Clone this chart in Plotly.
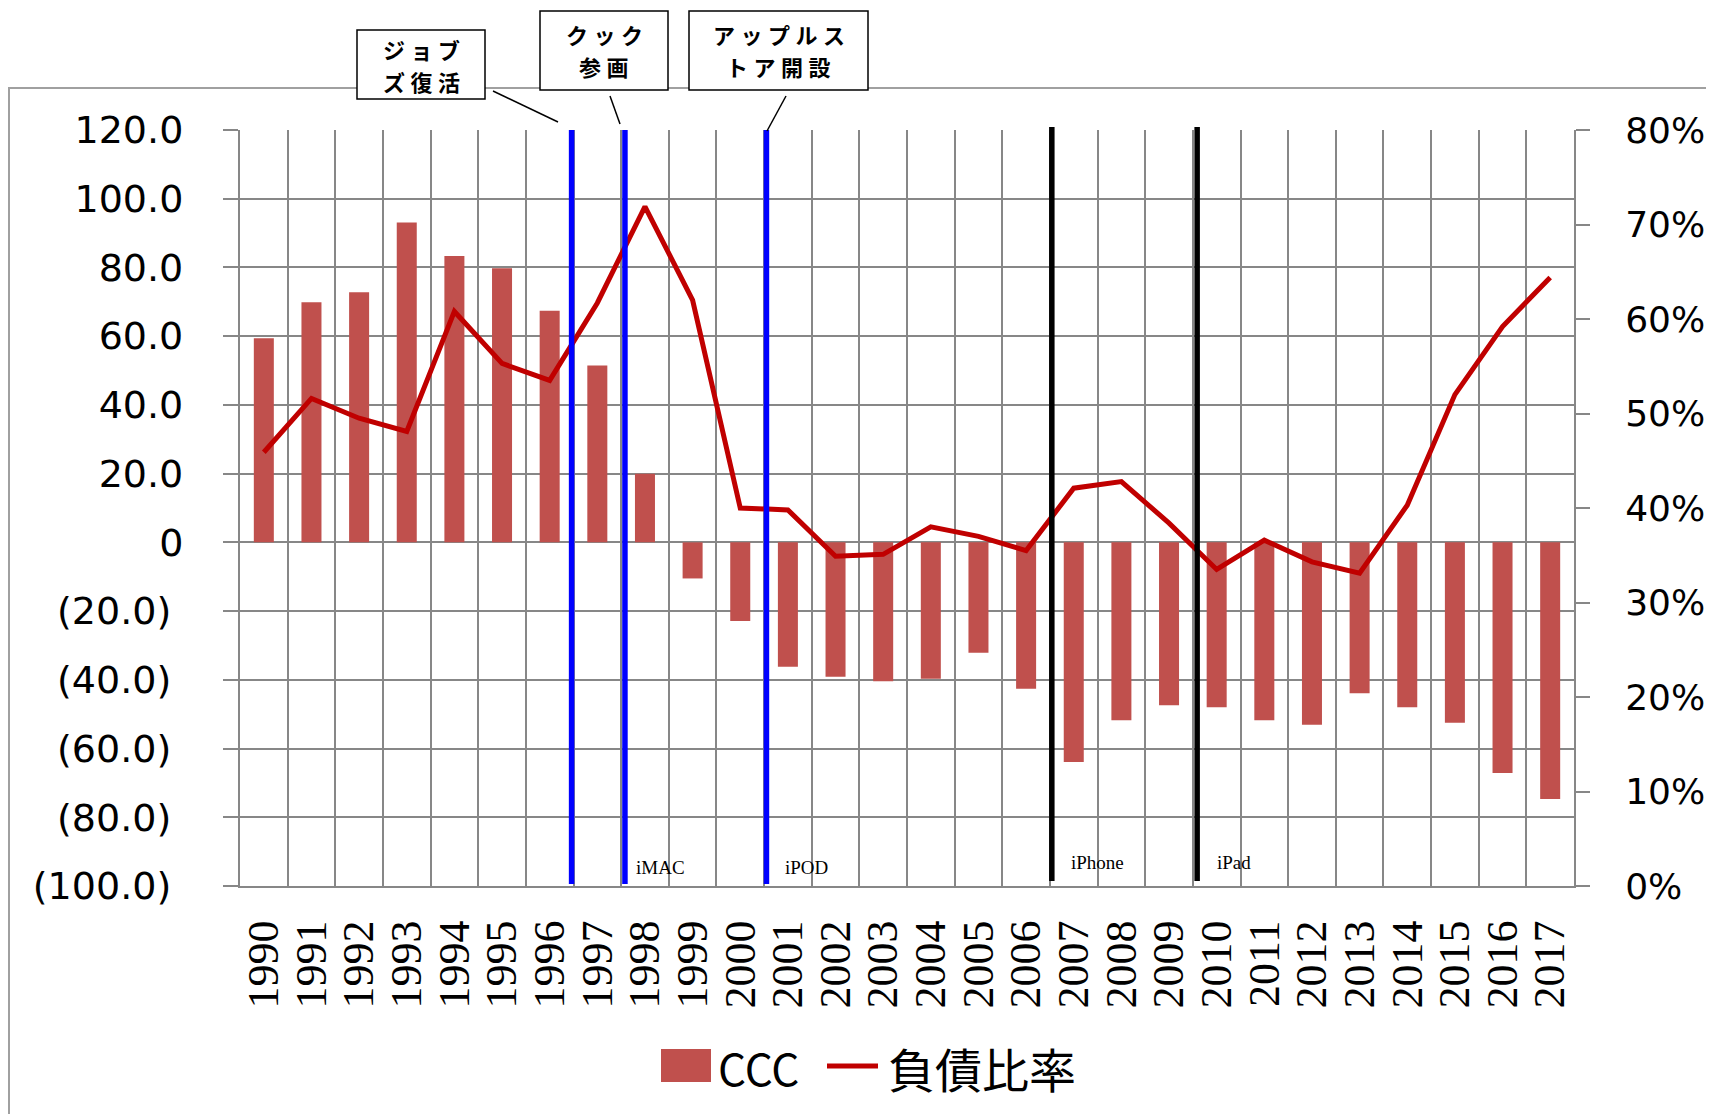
import plotly.graph_objects as go

# ---------------- data ----------------
years = ["1990", "1991", "1992", "1993", "1994", "1995", "1996", "1997", "1998", "1999",
         "2000", "2001", "2002", "2003", "2004", "2005", "2006", "2007", "2008", "2009",
         "2010", "2011", "2012", "2013", "2014", "2015", "2016", "2017"]

ccc = [59.4, 69.9, 72.8, 93.1, 83.3, 79.8, 67.4, 51.5, 20.0, -10.5,
       -22.9, -36.2, -39.1, -40.4, -39.7, -32.1, -42.6, -63.9, -51.8, -47.4,
       -48.0, -51.8, -53.1, -43.9, -48.0, -52.5, -67.1, -74.7]

debt_ratio = [0.459, 0.516, 0.495, 0.481, 0.608, 0.553, 0.535, 0.617, 0.719, 0.620,
              0.400, 0.398, 0.349, 0.351, 0.380, 0.370, 0.355, 0.421, 0.428, 0.384,
              0.335, 0.366, 0.343, 0.331, 0.403, 0.520, 0.592, 0.644]

left_tickvals = [-100, -80, -60, -40, -20, 0, 20, 40, 60, 80, 100, 120]
left_ticklabels = ["(100.0)", "(80.0)", "(60.0)", "(40.0)", "(20.0)", "0",
                   "20.0", "40.0", "60.0", "80.0", "100.0", "120.0"]

series_names = ["CCC", "負債比率"]

# event markers (between categories)
event_after_year = ["1996", "1997", "2000", "2006", "2009"]
event_colors = ["#0000FF", "#0000FF", "#0000FF", "#000000", "#000000"]
product_labels = ["", "iMAC", "iPOD", "iPhone", "iPad"]
callout_lines = [["ジョブ", "ズ復活"], ["クック", "参画"], ["アップルス", "トア開設"]]

# ---------------- layout geometry ----------------
# page body has an 8px margin, so the figure is drawn 8px right/down of the window
W_FIG, H_FIG = 1714, 1114
BODY = 8
L, R, T, B = 240, 1574, 130, 886          # plot area in window pixels
PW, PH = R - L, B - T


def px(x):
    return (x - L) / PW


def py(y):
    return (B - y) / PH


GRID = "#878787"
BAR_COLOR = "#C0504D"
LINE_COLOR = "#C00000"
SERIF = "Liberation Serif, Times New Roman, serif"
SANS = "DejaVu Sans"
CJK = "Noto Sans CJK JP"
NBSP = "\u00a0"

# accounting-style tick text: negatives carry a wider trailing pad than positives
left_ticktext = [t + NBSP * 2 if t.startswith("(") else t + NBSP for t in left_ticklabels]

fig = go.Figure()
fig.add_trace(go.Bar(x=years, y=ccc, name=series_names[0], marker_color=BAR_COLOR,
                     marker_line_width=0, yaxis="y", showlegend=False))
fig.add_trace(go.Scatter(x=years, y=debt_ratio, name=series_names[1], mode="lines",
                         line=dict(color=LINE_COLOR, width=5), yaxis="y2", showlegend=False))

shapes = []
annotations = []

# outer chart frame
shapes.append(dict(type="rect", xref="paper", yref="paper",
                   x0=px(9), x1=px(1760), y0=py(88), y1=py(1160),
                   line=dict(color="#A0A0A0", width=2), layer="below"))

# event lines
offsets = [-0.04, 0.08, 0.05, 0.04, 0.09]
label_offsets = [0.0, 0.19, 0.35, 0.37, 0.37]
ytops = [py(130), py(130), py(130), py(127), py(127)]
ybots = [py(884), py(884), py(884), py(881), py(881)]
for i, yr in enumerate(event_after_year):
    xc = years.index(yr) + 0.5 + offsets[i]
    shapes.append(dict(type="line", xref="x", yref="paper", x0=xc, x1=xc,
                       y0=ybots[i], y1=ytops[i],
                       line=dict(color=event_colors[i], width=5.5), layer="above"))
    if product_labels[i]:
        ylab = py(867) if i < 3 else py(862)
        annotations.append(dict(xref="x", yref="paper", x=xc + label_offsets[i], y=ylab,
                                text=product_labels[i], showarrow=False,
                                xanchor="left", yanchor="middle",
                                font=dict(family=SERIF, size=19, color="black")))

# callout boxes
boxes = [(357, 30, 485, 99), (540, 11, 668, 90), (689, 11, 868, 90)]
leaders = [((493, 91), (558, 122)), ((610, 96), (620, 124)), ((786, 96), (767, 131))]
for (x0, y0, x1, y1), lines, (p0, p1) in zip(boxes, callout_lines, leaders):
    shapes.append(dict(type="rect", xref="paper", yref="paper",
                       x0=px(x0), x1=px(x1), y0=py(y1), y1=py(y0),
                       fillcolor="white", line=dict(color="black", width=1.5), layer="above"))
    yc = (y0 + y1) / 2
    for k, ln in enumerate(lines):
        spaced = "\u2005".join(ln)
        annotations.append(dict(xref="paper", yref="paper", x=px((x0 + x1) / 2),
                                y=py(yc - 16 + 32 * k),
                                text="<b>" + spaced + "</b>", showarrow=False,
                                xanchor="center", yanchor="middle",
                                font=dict(family=CJK, size=22, color="black")))
    shapes.append(dict(type="line", xref="paper", yref="paper",
                       x0=px(p0[0]), y0=py(p0[1]), x1=px(p1[0]), y1=py(p1[1]),
                       line=dict(color="black", width=1.5), layer="above"))

# legend (drawn)
shapes.append(dict(type="rect", xref="paper", yref="paper",
                   x0=px(661), x1=px(711), y0=py(1082), y1=py(1049),
                   fillcolor=BAR_COLOR, line=dict(width=0)))
shapes.append(dict(type="line", xref="paper", yref="paper",
                   x0=px(827), x1=px(878), y0=py(1066), y1=py(1066),
                   line=dict(color=LINE_COLOR, width=5)))
annotations.append(dict(xref="paper", yref="paper", x=px(716), y=py(1067),
                        text=series_names[0], showarrow=False, xanchor="left", yanchor="middle",
                        font=dict(family=CJK, size=44, color="black")))
annotations.append(dict(xref="paper", yref="paper", x=px(886), y=py(1067),
                        text=series_names[1], showarrow=False, xanchor="left", yanchor="middle",
                        font=dict(family=CJK, size=47, color="black")))

fig.update_layout(
    width=W_FIG, height=H_FIG,
    margin=dict(l=L - BODY, r=W_FIG - (R - BODY), t=T - BODY, b=H_FIG - (B - BODY), pad=0,
                autoexpand=False),
    paper_bgcolor="white", plot_bgcolor="white",
    bargap=0.58,
    showlegend=False,
    xaxis=dict(type="category", range=[-0.5, 27.5], tickson="boundaries",
               tickmode="array", tickvals=years, ticktext=years,
               showgrid=True, gridcolor=GRID, gridwidth=2,
               showline=True, linecolor=GRID, linewidth=2,
               ticks="", tickangle=-90, ticklabelstandoff=15,
               tickfont=dict(family=SERIF, size=44, color="black")),
    yaxis=dict(range=[-100, 120], tickvals=left_tickvals, ticktext=left_ticktext,
               showgrid=True, gridcolor=GRID, gridwidth=2, zeroline=False,
               showline=True, linecolor=GRID, linewidth=2,
               ticks="outside", ticklen=15, tickcolor=GRID, tickwidth=2,
               ticklabelstandoff=20,
               tickfont=dict(family=SANS, size=38, color="black")),
    yaxis2=dict(range=[0, 0.8], dtick=0.1, tick0=0, tickformat=".0%",
                overlaying="y", side="right", showgrid=False, zeroline=False,
                showline=True, linecolor=GRID, linewidth=2,
                ticks="outside", ticklen=14, tickcolor=GRID, tickwidth=2,
                ticklabelstandoff=28,
                tickfont=dict(family=SANS, size=36, color="black")),
    shapes=shapes,
    annotations=annotations,
)

fig.write_html("out.html")
